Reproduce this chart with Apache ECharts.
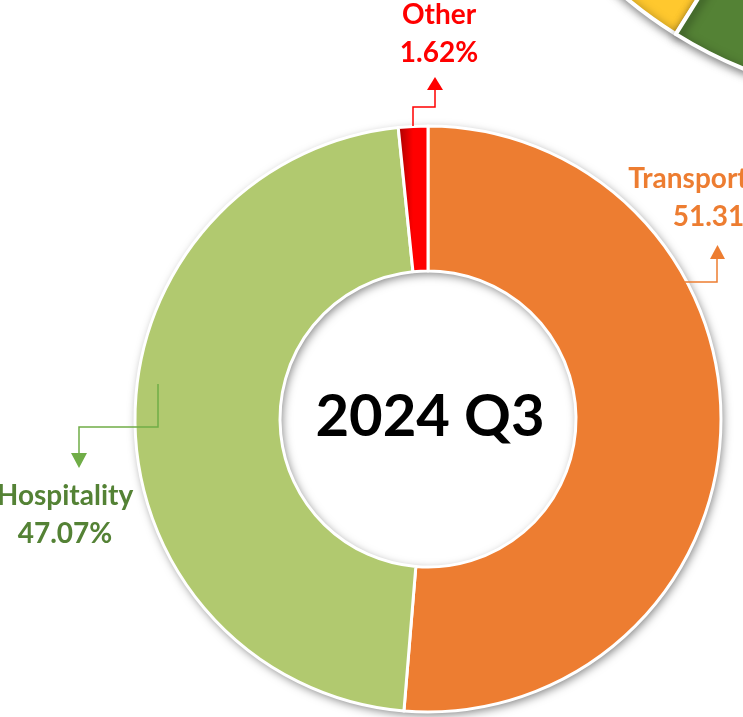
<!DOCTYPE html>
<html lang="en">
<head>
<meta charset="utf-8">
<title>2024 Q3</title>
<script src="https://cdn.jsdelivr.net/npm/echarts@6/dist/echarts.min.js"></script>
<style>
  html, body { margin: 0; padding: 0; background: #fff; }
  #chart { width: 743px; height: 717px; }
</style>
</head>
<body>
<div id="chart"></div>
<script>
  // 2024 Q3 share by sector (percent)
  var categories = ['Transportation', 'Hospitality', 'Other'];
  var shares = [51.31, 47.07, 1.62];

  // the next quarter's donut, cut off in the top right corner
  var neighbourNames = ['Yellow part', 'Green part'];
  var neighbourShares = [40, 60];

  var sliceColors = [
    '#ED7D31',
    '#B1C96F',
    new echarts.graphic.LinearGradient(0, 0, 1, 0, [
      { offset: 0, color: '#A00000' },
      { offset: 0.5, color: '#FF0000' },
      { offset: 1, color: '#FF0000' }
    ])
  ];
  var labelColors = ['#ED7D31', '#548235', '#FF0000'];
  var labelPos = [[720, 198], [65, 515], [439, 34]];
  var neighbourColors = ['#FFC82E', '#548235'];

  var chart = echarts.init(document.getElementById('chart'));

  var shadowStyle = {
    shadowBlur: 10,
    shadowOffsetX: 2,
    shadowOffsetY: 3,
    shadowColor: 'rgba(0,0,0,0.5)'
  };

  // leader line with arrow head
  function arrow(points, head, color) {
    return [
      { type: 'polyline', shape: { points: points }, style: { stroke: color, lineWidth: 1.5, fill: null }, z: 10 },
      { type: 'polygon', shape: { points: head }, style: { fill: color }, z: 10 }
    ];
  }

  var option = {
    backgroundColor: '#fff',
    animation: false,
    series: [
      {
        // the cut off donut at top right
        type: 'pie',
        silent: true,
        center: [909, -339],
        radius: [220, 440],
        startAngle: 238,
        clockwise: true,
        label: { show: false },
        labelLine: { show: false },
        itemStyle: Object.assign({ borderColor: '#fff', borderWidth: 4 }, shadowStyle),
        data: neighbourShares.map(function (v, i) {
          return { name: neighbourNames[i], value: v, itemStyle: { color: neighbourColors[i] } };
        })
      },
      {
        // ring underneath for the drop shadow
        type: 'pie',
        silent: true,
        center: [428, 419],
        radius: [148, 293],
        label: { show: false },
        labelLine: { show: false },
        itemStyle: Object.assign({ color: '#fff' }, shadowStyle),
        data: [{ name: '', value: 1 }]
      },
      {
        type: 'pie',
        center: [428, 419],
        radius: [148, 293],
        startAngle: 90,
        clockwise: true,
        avoidLabelOverlap: false,
        percentPrecision: 2,
        itemStyle: { borderColor: '#fff', borderWidth: 3 },
        emphasis: { disabled: true },
        label: {
          show: true,
          formatter: '{b}\n{d}%',
          fontFamily: 'Lato',
          fontWeight: 'bold',
          fontSize: 28,
          lineHeight: 38,
          align: 'center'
        },
        labelLine: { show: false },
        labelLayout: function (p) {
          var pos = labelPos[p.dataIndex];
          return { x: pos[0], y: pos[1], align: 'center', verticalAlign: 'middle' };
        },
        data: categories.map(function (c, i) {
          return {
            name: c,
            value: shares[i],
            itemStyle: { color: sliceColors[i] },
            label: { color: labelColors[i] }
          };
        })
      }
    ],
    graphic: [
      {
        type: 'text',
        x: 430,
        y: 417,
        style: {
          text: '2024 Q3',
          font: 'bold 58px Lato',
          fill: '#000',
          textAlign: 'center',
          textVerticalAlign: 'middle'
        },
        z: 10
      }
    ]
      .concat(arrow([[413, 126], [413, 107], [435, 107], [435, 90]], [[427, 90], [443, 90], [435, 77]], '#FF0000'))
      .concat(arrow([[685, 282], [717, 282], [717, 259]], [[710, 259], [725, 259], [717.5, 245]], '#ED7D31'))
      .concat(arrow([[158, 384], [158, 427], [79, 427], [79, 453]], [[71, 453], [87, 453], [79, 468]], '#70AD47'))
  };

  chart.setOption(option);
</script>
</body>
</html>
